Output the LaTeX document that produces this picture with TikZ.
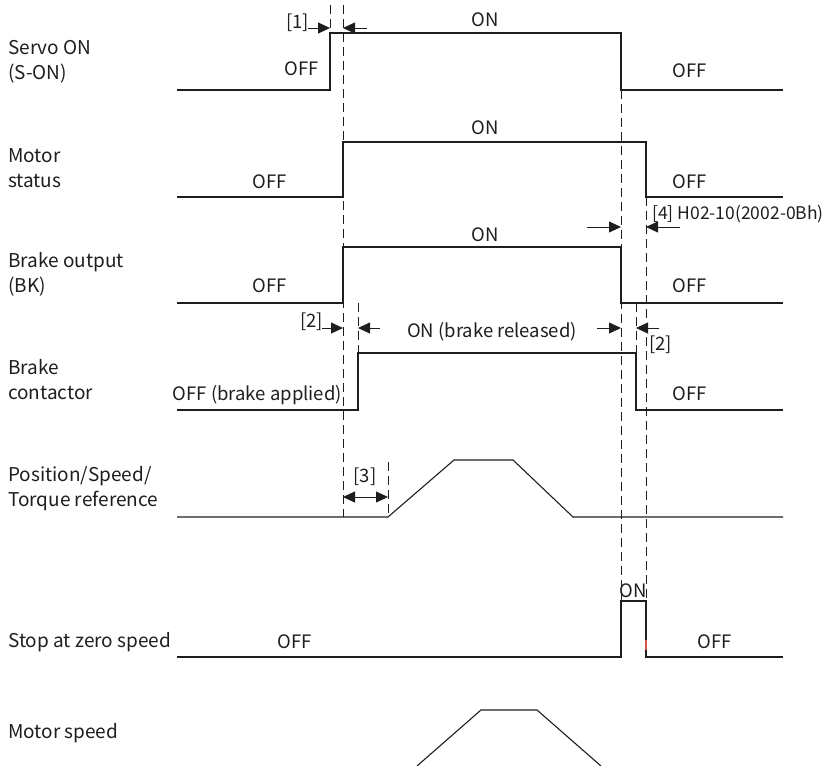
\documentclass[tikz,border=0pt]{standalone}
\usepackage{fontspec}
\setmainfont{Noto Sans CJK SC}
\usetikzlibrary{arrows.meta}
\definecolor{ink}{HTML}{1E1E1E}
\definecolor{tickred}{HTML}{D9534F}
\tikzset{
    every picture/.style={line join=miter},
    wave/.style={draw=ink,line width=1.1pt},
    guide/.style={draw=ink,line width=1pt,dash pattern=on 9pt off 5pt},
    gaparrow/.style={draw=ink,line width=0.8pt,-{Triangle[length=12pt,width=11pt]}},
    bothgap/.style={draw=ink,line width=0.8pt,{Triangle[length=12pt,width=11pt]}-{Triangle[length=12pt,width=11pt]}},
    siglabel/.style={font=\fontsize{19}{25}\selectfont,align=left,anchor=base west,
      inner sep=0pt,text=ink},
    levellabel/.style={font=\fontsize{18.5}{22}\selectfont,anchor=base,inner sep=0pt,text=ink},
    notelabel/.style={levellabel}
}

\begin{document}
\begin{tikzpicture}[x=1pt,y=-1pt]
  \useasboundingbox (0,0) rectangle (831,766);
  % signal names
  \foreach \y/\t [count=\i] in {79/{Servo ON\\(S-ON)},187/{Motor\\status},
      292/{Brake output\\(BK)},399/{Brake\\contactor},
      506/{Position/Speed/\\Torque reference},647/{Stop at zero speed},738/{Motor speed}}{
    \node[siglabel] (sig\i) at (8,\y) {\t};}
  % guide lines
  \draw[guide] (330,5) -- (330,33);
  \draw[guide] (343,5) -- (343,517);
  \draw[guide] (621,90) -- (621,601);
  \draw[guide] (646,197) -- (646,601);
  \draw[guide] (358,303) -- (358,353);
  \draw[guide] (636,303) -- (636,353);
  \draw[guide] (388,462) -- (388,517);
  % waveforms
  \draw[wave] (177,90) -- (330,90) -- (330,33) -- (621,33) -- (621,90) -- (783,90);
  \draw[wave] (177,197) -- (343,197) -- (343,142) -- (646,142) -- (646,197) -- (783,197);
  \draw[wave] (177,303) -- (343,303) -- (343,247) -- (621,247) -- (621,303) -- (783,303);
  \draw[wave] (177,410) -- (358,410) -- (358,353) -- (636,353) -- (636,410) -- (783,410);
  \draw[wave] (177,517) -- (388,517) -- (454,460) -- (513,460) -- (573,517) -- (783,517);
  \draw[wave] (177,657) -- (621,657) -- (621,601) -- (646,601) -- (646,657) -- (783,657);
  \draw[wave] (417,766) -- (481,710) -- (537,710) -- (601,766);
  \draw[tickred,line width=1.1pt] (646,640) -- (646,650);
  % levels
  \node[levellabel] (son)   at (485,26)  {ON};
  \node[levellabel] (soffa) at (302,75)  {OFF};
  \node[levellabel] (soffb) at (690,77)  {OFF};
  \node[levellabel] (mon)   at (485,134) {ON};
  \node[levellabel] (moffa) at (270,188) {OFF};
  \node[levellabel] (moffb) at (690,188) {OFF};
  \node[levellabel] (bon)   at (485,241) {ON};
  \node[levellabel] (boffa) at (270,292) {OFF};
  \node[levellabel] (boffb) at (690,292) {OFF};
  \node[levellabel] (con)   at (492,337) {ON (brake released)};
  \node[levellabel,anchor=base east] (coffa) at (342,400) {OFF (brake applied)};
  \node[levellabel] (coffb) at (690,400) {OFF};
  \node[levellabel] (zon)   at (633,597) {ON};
  \node[levellabel] (zoffa) at (295,648) {OFF};
  \node[levellabel] (zoffb) at (715,648) {OFF};
  % delays
  \coordinate (d1a) at (308,28);  \coordinate (d1b) at (330,28);
  \coordinate (d1c) at (367,28);  \coordinate (d1d) at (343,28);
  \draw[gaparrow] (d1a) -- (d1b);
  \draw[gaparrow] (d1c) -- (d1d);
  \node[notelabel,anchor=base east] (n1) at (309,28) {[1]};
  \coordinate (d4a) at (587,227); \coordinate (d4b) at (621,227);
  \coordinate (d4c) at (680,227); \coordinate (d4d) at (646,227);
  \draw[gaparrow] (d4a) -- (d4b);
  \draw[gaparrow] (d4c) -- (d4d);
  \node[notelabel,anchor=base west,font=\fontsize{17.5}{22}\selectfont] (n4) at (652,219) {[4] H02-10(2002-0Bh)};
  \coordinate (d2a) at (322,328); \coordinate (d2b) at (343,328);
  \coordinate (d2c) at (380,328); \coordinate (d2d) at (358,328);
  \draw[gaparrow] (d2a) -- (d2b);
  \draw[gaparrow] (d2c) -- (d2d);
  \node[notelabel,anchor=base east] (n2a) at (323,327) {[2]};
  \coordinate (d2e) at (597,328); \coordinate (d2f) at (621,328);
  \coordinate (d2g) at (659,328); \coordinate (d2h) at (636,328);
  \draw[gaparrow] (d2e) -- (d2f);
  \draw[gaparrow] (d2g) -- (d2h);
  \node[notelabel,anchor=base west] (n2b) at (649,350) {[2]};
  \coordinate (d3a) at (343,497); \coordinate (d3b) at (388,497);
  \draw[bothgap] (d3a) -- (d3b);
  \node[notelabel] (n3) at (365,482) {[3]};
\end{tikzpicture}
\end{document}
